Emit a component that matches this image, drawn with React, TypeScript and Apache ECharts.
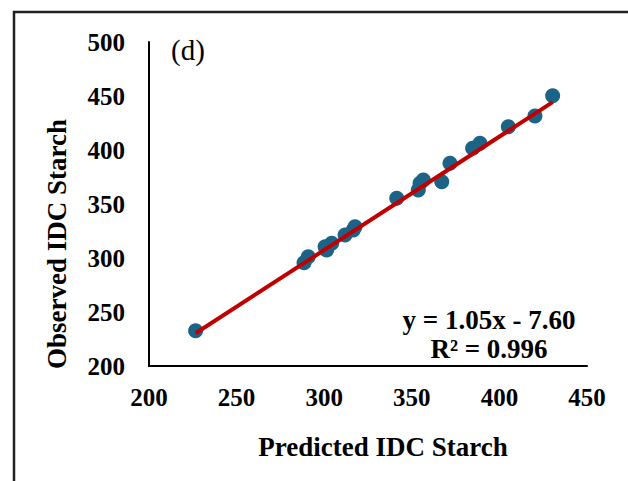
import React, { useEffect, useRef } from "react";
import * as echarts from "echarts";

// Predicted vs observed IDC starch (panel d)
const predicted = [
  226.6, 288.5, 290.9, 300.5, 301.4, 304.3, 311.9, 316.6, 317.6, 341.4,
  353.7, 354.7, 356.6, 367.1, 371.8, 384.7, 388.9, 405.1, 420.3, 430.4,
];
const observed = [
  232.7, 295.6, 301.2, 310.5, 307.4, 313.6, 321.3, 325.9, 329.0, 355.3,
  363.0, 369.2, 372.2, 370.6, 387.7, 401.6, 406.2, 421.6, 431.5, 450.3,
];
const xTicks = [200, 250, 300, 350, 400, 450];
const yTicks = [200, 250, 300, 350, 400, 450, 500];
const slope = 1.05;
const intercept = -7.6;
const rSquared = 0.996;

const FONT = "'Liberation Serif', 'Times New Roman', serif";

export default function App() {
  const ref = useRef<HTMLDivElement>(null);

  useEffect(() => {
    if (!ref.current) return;
    const chart = echarts.init(ref.current, undefined, { renderer: "svg" });

    const points = predicted.map((p, i) => [p, observed[i]]);
    const xMin = Math.min(...predicted);
    const xMax = Math.max(...predicted);
    const fitLine = [
      [xMin, slope * xMin + intercept],
      [xMax, slope * xMax + intercept],
    ];
    const sign = intercept < 0 ? "-" : "+";
    const eqText = `y = ${slope.toFixed(2)}x ${sign} ${Math.abs(intercept).toFixed(2)}`;
    const r2Text = `R² = ${rSquared.toFixed(3)}`;

    const tickLabel = {
      color: "#000",
      fontFamily: FONT,
      fontWeight: "bold" as const,
      fontSize: 25,
    };

    chart.setOption({
      animation: false,
      backgroundColor: "#fff",
      grid: { left: 149, right: 41, top: 42, bottom: 115, containLabel: false },
      xAxis: {
        type: "value",
        min: xTicks[0],
        max: xTicks[xTicks.length - 1],
        interval: 50,
        axisLine: { show: true, lineStyle: { color: "#000", width: 2 } },
        axisTick: { show: false },
        splitLine: { show: false },
        axisLabel: { ...tickLabel, margin: 19 },
      },
      yAxis: {
        type: "value",
        min: yTicks[0],
        max: yTicks[yTicks.length - 1],
        interval: 50,
        axisLine: { show: true, lineStyle: { color: "#000", width: 2 } },
        axisTick: { show: false },
        splitLine: { show: false },
        axisLabel: { ...tickLabel, margin: 24 },
      },
      series: [
        {
          type: "scatter",
          data: points,
          symbol: "circle",
          symbolSize: 15,
          itemStyle: { color: "#1b6488", opacity: 1 },
          z: 2,
        },
        {
          type: "line",
          data: fitLine,
          showSymbol: false,
          symbol: "none",
          lineStyle: { color: "#c00000", width: 4 },
          z: 3,
        },
      ],
      graphic: [
        {
          type: "rect",
          shape: { x: 14, y: 12, width: 700, height: 600 },
          style: { fill: "none", stroke: "#222", lineWidth: 2.5 },
          silent: true,
        },
        {
          type: "text",
          x: 171,
          y: 50,
          style: {
            text: "(d)",
            font: `normal 29px ${FONT}`,
            fill: "#000",
            verticalAlign: "middle",
          },
        },
        {
          type: "text",
          x: 383,
          y: 447,
          style: {
            text: "Predicted IDC Starch",
            font: `bold 27px ${FONT}`,
            fill: "#000",
            align: "center",
            verticalAlign: "middle",
          },
        },
        {
          type: "text",
          x: 57,
          y: 244,
          rotation: Math.PI / 2,
          style: {
            text: "Observed IDC Starch",
            font: `bold 27px ${FONT}`,
            fill: "#000",
            align: "center",
            verticalAlign: "middle",
          },
        },
        {
          type: "text",
          x: 489,
          y: 320,
          style: {
            text: eqText,
            font: `bold 27px ${FONT}`,
            fill: "#000",
            align: "center",
            verticalAlign: "middle",
          },
        },
        {
          type: "text",
          x: 489,
          y: 349,
          style: {
            text: r2Text,
            font: `bold 27px ${FONT}`,
            fill: "#000",
            align: "center",
            verticalAlign: "middle",
          },
        },
      ],
    });

    return () => chart.dispose();
  }, []);

  return (
    <div
      ref={ref}
      style={{ position: "fixed", left: 0, top: 0, width: 628, height: 481 }}
    />
  );
}
